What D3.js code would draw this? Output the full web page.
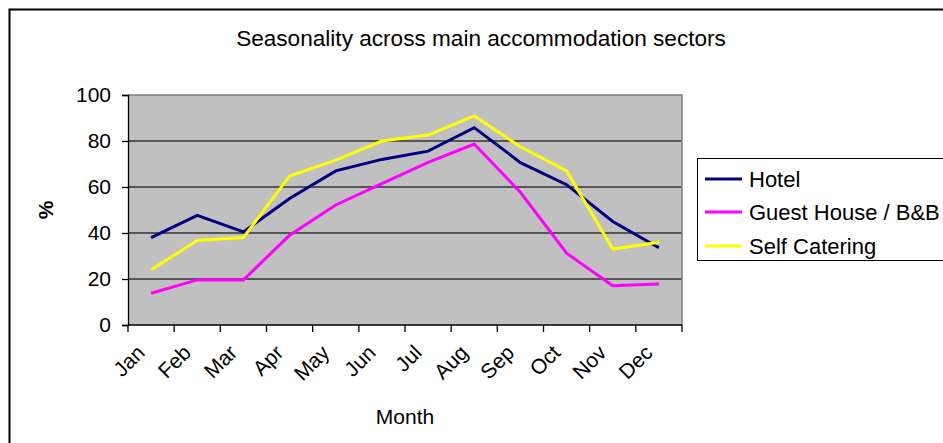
<!DOCTYPE html>
<html><head><meta charset="utf-8">
<script src="https://cdn.jsdelivr.net/npm/d3@7"></script>
<style>html,body{margin:0;padding:0;background:#fff;overflow:hidden}</style>
</head><body>
<svg id="chart" width="943" height="443"></svg>
<script>
const months = ["Jan","Feb","Mar","Apr","May","Jun","Jul","Aug","Sep","Oct","Nov","Dec"];
const hotel = [38, 47.7, 40.5, 55, 67, 72, 75.6, 85.8, 70.6, 61, 45, 33.6];
const guestHouse = [13.8, 19.6, 19.6, 39, 52.2, 61.5, 70.7, 78.7, 57.7, 31.2, 17.1, 17.8];
const selfCatering = [24, 36.7, 38, 64.8, 71.7, 80, 82.6, 90.9, 77.5, 67, 33, 36];
const seriesNames = ["Hotel", "Guest House / B&B", "Self Catering"];
const yTicks = [0, 20, 40, 60, 80, 100];
const titleText = "Seasonality across main accommodation sectors";
const xTitle = "Month";
const yTitle = "%";

const series = [
  {name: seriesNames[0], values: hotel, color: "#000080"},
  {name: seriesNames[1], values: guestHouse, color: "#FF00FF"},
  {name: seriesNames[2], values: selfCatering, color: "#FFFF00"}
];

const svg = d3.select("#chart");
const font = "'Liberation Sans', Arial, sans-serif";
const L = 128, R = 682, T = 95, B = 325;

// outer chart frame
svg.append("path").attr("d", `M9.5,443 V9.5 H943`).attr("fill", "none").attr("stroke", "#000").attr("stroke-width", 2);

const x = d3.scaleBand().domain(months).range([L, R]).padding(0);
const y = d3.scaleLinear().domain([0, 100]).range([B, T]);

// plot area
svg.append("rect").attr("x", L).attr("y", T).attr("width", R - L).attr("height", B - T).attr("fill", "#C0C0C0");

// gridlines
svg.append("g").selectAll("line").data(yTicks.filter(d => d > 0 && d < 100)).join("line")
  .attr("x1", L).attr("x2", R).attr("y1", d => y(d)).attr("y2", d => y(d))
  .attr("stroke", "#333").attr("stroke-width", 1.3);
// plot border top/right
svg.append("path").attr("d", `M${L},${y(100)} H${R} V${B}`).attr("fill", "none").attr("stroke", "#808080").attr("stroke-width", 1.5);

// y axis
const yAxis = svg.append("g").attr("transform", `translate(${L},0)`)
  .call(d3.axisLeft(y).tickValues(yTicks).tickSize(6).tickPadding(11).tickFormat(d3.format("d")));
yAxis.select(".domain").attr("stroke", "#000").attr("stroke-width", 1.3);
yAxis.selectAll(".tick line").attr("stroke", "#000").attr("stroke-width", 1.3);
yAxis.selectAll("text").attr("font-family", font).attr("font-size", 21).attr("fill", "#000");

// x axis
const xAxisG = svg.append("g");
xAxisG.append("line").attr("x1", L).attr("x2", R).attr("y1", B).attr("y2", B).attr("stroke", "#000").attr("stroke-width", 1.3);
const bounds = months.map(m => x(m)).concat([x(months[months.length - 1]) + x.bandwidth()]);
xAxisG.selectAll("line.tk").data(bounds).join("line").attr("class", "tk")
  .attr("x1", d => d).attr("x2", d => d).attr("y1", B).attr("y2", B + 7)
  .attr("stroke", "#000").attr("stroke-width", 1.3);
xAxisG.selectAll("text").data(months).join("text")
  .attr("transform", d => `translate(${x(d) + x.bandwidth() / 2 - 5},${B + 29}) rotate(-45)`)
  .attr("text-anchor", "end").attr("font-family", font).attr("font-size", 21).attr("fill", "#000")
  .text(d => d);

// lines
const line = d3.line().x((d, i) => x(months[i]) + x.bandwidth() / 2).y(d => y(d));
svg.append("g").selectAll("path").data(series).join("path")
  .attr("d", d => line(d.values)).attr("fill", "none")
  .attr("stroke", d => d.color).attr("stroke-width", 3).attr("stroke-linejoin", "miter");

// titles
svg.append("text").attr("x", 481).attr("y", 46).attr("text-anchor", "middle")
  .attr("font-family", font).attr("font-size", 22.6).attr("fill", "#000").text(titleText);
svg.append("text").attr("x", 405).attr("y", 424).attr("text-anchor", "middle")
  .attr("font-family", font).attr("font-size", 21).attr("fill", "#000").text(xTitle);
svg.append("text").attr("transform", "translate(53,210) rotate(-90)").attr("text-anchor", "middle")
  .attr("font-family", font).attr("font-size", 21).attr("font-weight", "bold").attr("fill", "#000").text(yTitle);

// legend
const lg = svg.append("g");
lg.append("rect").attr("x", 697.5).attr("y", 158.5).attr("width", 260).attr("height", 102)
  .attr("fill", "#fff").attr("stroke", "#000").attr("stroke-width", 1);
const ly = [179, 212, 246];
series.forEach((s, i) => {
  lg.append("line").attr("x1", 705).attr("x2", 742).attr("y1", ly[i]).attr("y2", ly[i])
    .attr("stroke", s.color).attr("stroke-width", 3);
  lg.append("text").attr("x", 749).attr("y", ly[i] + 7.5).attr("font-family", font).attr("font-size", 22)
    .attr("fill", "#000").text(s.name);
});
</script>
</body></html>
